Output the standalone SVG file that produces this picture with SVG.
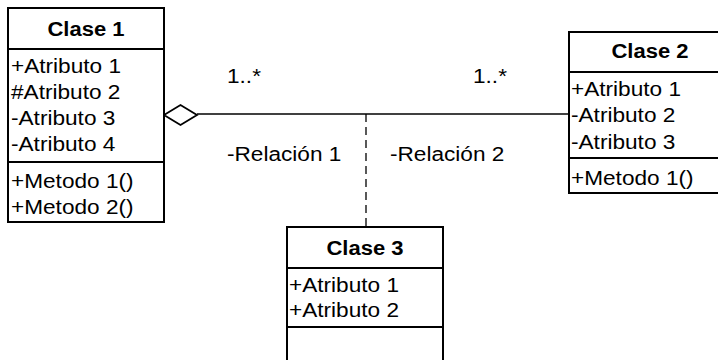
<svg xmlns="http://www.w3.org/2000/svg" width="718" height="360" viewBox="0 0 718 360">
<style>
.box{fill:#fff;stroke:#000;stroke-width:2}
.sep{stroke:#000;stroke-width:2}
text{font-family:"Liberation Sans",Arial,sans-serif;font-size:19.5px;fill:#000}
.t{font-weight:bold;text-anchor:middle}
.conn{stroke:#000;stroke-width:1.3;fill:none}
</style>
<rect width="718" height="360" fill="#fff"/>
<g id="connectors">
<line class="conn" x1="197" y1="114" x2="569" y2="114"/>
<polygon points="164,115 180.5,105 197,115 180.5,125" fill="#fff" stroke="#000" stroke-width="1.8"/>
<line class="conn" x1="366" y1="114" x2="366" y2="227" stroke-dasharray="8 5"/>
<text transform="translate(227,83) scale(1.16,1)">1..*</text>
<text transform="translate(473,83) scale(1.16,1)">1..*</text>
<text transform="translate(227,161) scale(1.16,1)">-Relación 1</text>
<text transform="translate(390,160.5) scale(1.16,1)">-Relación 2</text>
</g>
<g id="clase1">
<rect class="box" x="8" y="8" width="156" height="214"/>
<line class="sep" x1="8" y1="49" x2="164" y2="49"/>
<line class="sep" x1="8" y1="162" x2="164" y2="162"/>
<text class="t" transform="translate(86,35.5) scale(1.13,1)">Clase 1</text>
<text transform="translate(11,73) scale(1.16,1)">+Atributo 1</text>
<text transform="translate(11,98.5) scale(1.16,1)">#Atributo 2</text>
<text transform="translate(11,124.5) scale(1.16,1)">-Atributo 3</text>
<text transform="translate(11,150.5) scale(1.16,1)">-Atributo 4</text>
<text transform="translate(11,187.5) scale(1.16,1)">+Metodo 1()</text>
<text transform="translate(11,213.5) scale(1.16,1)">+Metodo 2()</text>
</g>
<g id="clase2">
<rect class="box" x="569" y="32" width="160" height="161"/>
<line class="sep" x1="569" y1="72" x2="729" y2="72"/>
<line class="sep" x1="569" y1="158" x2="729" y2="158"/>
<text class="t" transform="translate(650,57.5) scale(1.13,1)">Clase 2</text>
<text transform="translate(571,95.5) scale(1.16,1)">+Atributo 1</text>
<text transform="translate(571,122) scale(1.16,1)">-Atributo 2</text>
<text transform="translate(571,148.5) scale(1.16,1)">-Atributo 3</text>
<text transform="translate(571,185) scale(1.16,1)">+Metodo 1()</text>
</g>
<g id="clase3">
<rect class="box" x="287" y="227" width="156" height="150"/>
<line class="sep" x1="287" y1="268" x2="443" y2="268"/>
<line class="sep" x1="287" y1="327" x2="443" y2="327"/>
<text class="t" transform="translate(365,254.5) scale(1.13,1)">Clase 3</text>
<text transform="translate(289,291.5) scale(1.16,1)">+Atributo 1</text>
<text transform="translate(289,317) scale(1.16,1)">+Atributo 2</text>
</g>
</svg>
